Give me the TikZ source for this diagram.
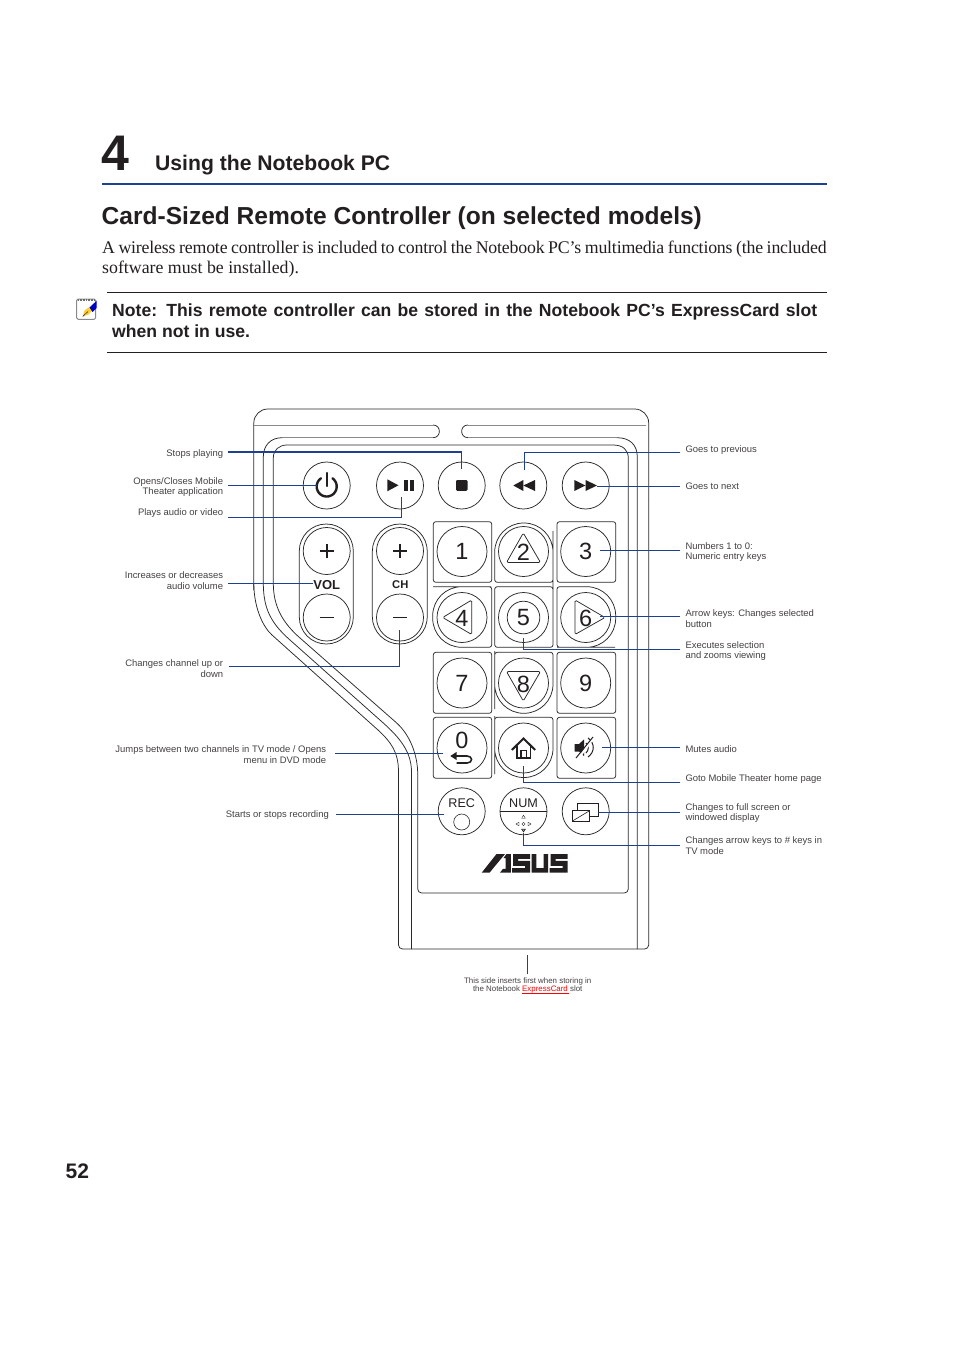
\documentclass[tikz,border=0pt]{standalone}
\usepackage{fontspec}
\setmainfont{Liberation Sans}
\newfontfamily\serifbody{Liberation Serif}
\newfontfamily\serifTight[LetterSpace=-1.0]{Liberation Serif}
\definecolor{leader}{HTML}{1F3F8F}
\definecolor{ink}{HTML}{231F20}
\definecolor{outl}{HTML}{2A2A2A}
\definecolor{soft}{HTML}{8A8A8A}
\newcommand{\fs}[2]{\fontsize{#1}{#2}\selectfont}
\tikzset{
  x=1pt,y=-1pt,
  body/.style={draw=outl,line width=.75pt},
  softline/.style={draw=soft,line width=.8pt},
  keybox/.style={draw=outl,line width=.75pt,rounded corners=2.5pt},
  btn/.style={circle,draw=outl,line width=.75pt,minimum size=47pt,inner sep=0pt,fill=white},
  knob/.style={circle,draw=outl,line width=.75pt,minimum size=50pt,inner sep=0pt,fill=white,font=\fs{23.5}{24},text=ink},
  digit/.style={inner sep=0pt,font=\fs{23.5}{24},text=ink},
  lead/.style={draw=leader,line width=.9pt},
  leadb/.style={draw=leader,line width=1.5pt},
  lab/.style={font=\fs{9.45}{10.8},text=ink!85!white,inner sep=0pt},
  labL/.style={lab,anchor=west,align=left},
  labR/.style={lab,anchor=east,align=right},
  glyph/.style={fill=ink,draw=none},
  gline/.style={draw=ink,line width=1.7pt},
  txt/.style={anchor=base west,inner sep=0pt,text=ink},
}
\begin{document}
\begin{tikzpicture}
\useasboundingbox[fill=white] (0,0) rectangle (954,1351);

% ---------- page header ----------
\node[txt,font=\bfseries\fs{50}{53}] (chap) at (101,171) {4};
\node[txt,font=\bfseries\fs{21.15}{24}] (chaptitle) at (155,170.5) {Using the Notebook PC};
\coordinate (hrA) at (102,184); \coordinate (hrB) at (827,184);
\draw[draw=leader,line width=1.6pt] (hrA) -- (hrB);
\node[txt,font=\bfseries\fs{24.55}{28}] (title) at (101.5,224.5) {Card-Sized Remote Controller (on selected models)};
\node[txt,font=\serifTight\fs{17.8}{20}] (body1) at (102,253) {\makebox[724.5pt][s]{A wireless remote controller is included to control the Notebook PC’s multimedia functions (the included}};
\node[txt,font=\serifbody\fs{17.8}{20}] (body2) at (102,273) {software must be installed).};
\coordinate (n1a) at (107,292.5); \coordinate (n1b) at (827,292.5);
\coordinate (n2a) at (107,352.5); \coordinate (n2b) at (827,352.5);
\draw[line width=.8pt,draw=ink] (n1a) -- (n1b);
\draw[line width=.8pt,draw=ink] (n2a) -- (n2b);
\node[txt,font=\bfseries\fs{17.6}{20}] (note1) at (112,316) {\makebox[705pt][s]{Note: This remote controller can be stored in the Notebook PC’s ExpressCard slot}};
\node[txt,font=\bfseries\fs{17.6}{20}] (note2) at (112,337) {when not in use.};
\node[txt,font=\bfseries\fs{21}{24}] (pageno) at (65.5,1178) {52};

% note icon
\draw[draw=soft,fill=white,line width=1pt,rounded corners=1.5pt] (76.7,299) rectangle (95.7,319.3);
\draw[draw=gray!85!black,line width=2pt,dash pattern=on .9pt off .7pt] (78,299.5) -- (94.5,299.5);
\fill[fill=yellow!55!orange!80!white] (82.7,316.5) -- (84.5,310.5) -- (90,306.5) -- (92.5,310) -- (88.5,314.5) -- cycle;
\fill[fill=blue!75!black] (89.5,307.5) -- (96.7,300.7) -- (96.7,308) -- (92.5,312) -- cycle;
\draw[draw=ink,line width=.5pt] (82.7,316.5) -- (88,311.5);

% ---------- remote body ----------
\draw[body,rounded corners=14pt] (253.8,590) -- (253.8,409) -- (648.7,409) -- (648.7,500);
\draw[body,rounded corners=4pt] (648.7,500) -- (648.7,949) -- (398.5,949) -- (398.5,790);
\draw[body] (398.5,790) -- (398.5,772) .. controls (398.5,752) and (391,742) .. (378,730) -- (272,635) .. controls (262,626) and (253.8,606) .. (253.8,583);
% top slots
\draw[softline] (253.8,425) -- (433,425);
\draw[softline] (646,425) -- (468,425);
\draw[body] (433,425) .. controls (441.5,425) and (441.5,437.7) .. (433,437.7);
\draw[body] (468,425) .. controls (459.5,425) and (459.5,437.7) .. (468,437.7);
\draw[softline] (433,437.7) -- (282,437.7);
\draw[softline] (468,437.7) -- (617,437.7);
\draw[body] (282,437.7) .. controls (271,437.7) and (263.3,445) .. (263.3,457) -- (263.3,583) .. controls (263.3,610) and (272,624) .. (290,640) -- (383.3,723) .. controls (400,738) and (411.5,752) .. (411.5,772) -- (411.5,949);
\draw[body] (617,437.7) .. controls (630,437.7) and (637.3,445) .. (637.3,457) -- (637.3,949);
% inner panel
\draw[body] (417.7,778) .. controls (417.7,755) and (410,735) .. (396.7,723) -- (300,638) .. controls (283,623) and (273.3,607) .. (273.3,583) -- (273.3,458) .. controls (273.3,450) and (279,445) .. (287,445) -- (613,445) .. controls (623,445) and (628.3,450) .. (628.3,458) -- (628.3,887) [rounded corners=4pt] -- (628.3,893) -- (417.7,893) -- cycle;

% ---------- top row ----------
\node[btn] (bPower) at (326.7,485.5) {};
\node[btn] (bPlay) at (400,485.5) {};
\node[btn] (bStop) at (461.7,485.5) {};
\node[btn] (bPrev) at (523.3,485.5) {};
\node[btn] (bNext) at (585.7,485.5) {};
\draw[draw=ink,line width=2.4pt,line cap=round] plot[domain=125:415,samples=40] ({326.7+10*cos(\x)},{486.5-10*sin(\x)});
\draw[draw=ink,line width=2.4pt,line cap=round] (326.7,473) -- (326.7,486);
\fill[glyph] (387.3,479.3) -- (398.5,485.3) -- (387.3,491.3) -- cycle;
\fill[glyph] (403.8,480) rectangle (407.8,491);
\fill[glyph] (409.5,480) rectangle (413.5,491);
\fill[glyph,rounded corners=1.2pt] (456,480) rectangle (467.5,490.8);
\fill[glyph] (513.3,485.5) -- (523.3,480) -- (523.3,491) -- cycle;
\fill[glyph] (523.3,485.5) -- (535,480) -- (535,491) -- cycle;
\fill[glyph] (574.3,480) -- (585.5,485.5) -- (574.3,491) -- cycle;
\fill[glyph] (585.5,480) -- (597,485.5) -- (585.5,491) -- cycle;

% ---------- VOL / CH ----------
\draw[body,rounded corners=27pt] (299.3,584) -- (299.3,524) -- (353.3,524) -- (353.3,644) -- (299.3,644) -- cycle;
\draw[body,rounded corners=27.5pt] (372.3,584) -- (372.3,524) -- (427.3,524) -- (427.3,644) -- (372.3,644) -- cycle;
\node[btn] (volUp) at (326.7,551) {};
\node[btn] (volDn) at (326.7,617.5) {};
\node[btn] (chUp) at (400,551) {};
\node[btn] (chDn) at (400,617.5) {};
\draw[gline] (319.7,551) -- (333.7,551) (326.7,544) -- (326.7,558);
\draw[gline] (393,551) -- (407,551) (400,544) -- (400,558);
\draw[gline] (319.7,617.5) -- (333.7,617.5);
\draw[gline] (393,617.5) -- (407,617.5);
\node[inner sep=0pt,font=\bfseries\fs{13}{13},text=ink] (volT) at (326.7,585) {VOL};
\node[inner sep=0pt,font=\bfseries\fs{11.2}{13},text=ink] (chT) at (400.3,585) {CH};

% ---------- keypad frames ----------
\draw[keybox] (433.3,521.7) rectangle (491.7,582.3);
\draw[keybox] (494.7,582.3) -- (494.7,560) [rounded corners=29pt] -- (494.7,523) -- (553,523) -- (553,560) [rounded corners=2.5pt] -- (553,582.3) -- cycle;
\draw[keybox] (557,521.7) rectangle (615.7,582.3);
\draw[keybox] (491.7,586.7) -- (491.7,647.3) -- (462,647.3) [rounded corners=29pt] -- (432.7,647.3) -- (432.7,586.7) -- (462,586.7) [rounded corners=2.5pt] -- cycle;
\draw[keybox] (494.7,586.7) rectangle (553,647.3);
\draw[keybox] (557,647.3) -- (557,586.7) -- (586,586.7) [rounded corners=29pt] -- (615.7,586.7) -- (615.7,647.3) -- (586,647.3) [rounded corners=2.5pt] -- cycle;
\draw[keybox] (433.3,652.3) rectangle (491.7,713.3);
\draw[keybox] (494.7,652.3) -- (553,652.3) -- (553,680) [rounded corners=29pt] -- (553,713.3) -- (494.7,713.3) -- (494.7,680) [rounded corners=2.5pt] -- cycle;
\draw[keybox] (557,652.3) rectangle (615.7,713.3);
\draw[keybox] (433.3,717.3) rectangle (491.7,778.3);
\draw[keybox] (494.7,717.3) -- (553,717.3) -- (553,745) [rounded corners=29pt] -- (553,777.5) -- (494.7,777.5) -- (494.7,745) [rounded corners=2.5pt] -- cycle;
\draw[keybox] (557,717.3) rectangle (615.7,778.3);

% ---------- keypad knobs ----------
\node[knob] (k1) at (462,551.5) {1};
\node[knob] (k2) at (523.5,551.5) {};
\node[knob] (k3) at (585.7,551.5) {3};
\node[knob] (k4) at (462,617.5) {};
\node[knob] (k5) at (523.5,617.5) {};
\node[knob] (k6) at (585.7,617.5) {};
\node[knob] (k7) at (462,683) {7};
\node[knob] (k8) at (523.5,683) {};
\node[knob] (k9) at (585.7,683) {9};
\node[knob] (k0) at (462,748) {};
\node[knob] (kHome) at (523.5,748) {};
\node[knob] (kMute) at (585.7,748) {};
\draw[body,rounded corners=1.5pt] (523.3,533) -- (540.5,562.5) -- (506.5,562.5) -- cycle;
\draw[body,rounded corners=1.5pt] (442.7,617.5) -- (471.7,600) -- (471.7,634.5) -- cycle;
\draw[body,rounded corners=1.5pt] (605,617.5) -- (575,600) -- (575,634.5) -- cycle;
\draw[body,rounded corners=1.5pt] (523.3,701) -- (540.5,671.5) -- (506.5,671.5) -- cycle;
\draw[body] (523.5,617.5) circle (16.3);
\node[digit] (d2) at (523.5,552) {2};
\node[digit] (d4) at (462,618) {4};
\node[digit] (d5) at (523.5,618) {5};
\node[digit] (d6) at (585.7,618) {6};
\node[digit] (d8) at (523.5,684) {8};
\node[digit] (d0) at (462,740) {0};
% back arrow
\draw[draw=ink,line width=1.6pt] (453,756) -- (467,756) .. controls (473,756) and (473,763) .. (467,763) -- (456.5,763);
\fill[glyph] (450.3,756) -- (456.5,752) -- (456.5,760) -- cycle;
% home icon
\draw[draw=ink,line width=2pt,line join=miter] (511.8,750) -- (523.5,738.5) -- (535.2,750);
\draw[draw=ink,line width=1.8pt] (516.7,746) -- (516.7,757.8) -- (530.5,757.8) -- (530.5,746);
\draw[draw=ink,line width=1.4pt] (521,757.8) -- (521,750.5) -- (526.2,750.5) -- (526.2,757.8);
% mute icon
\fill[glyph] (574.5,744) -- (579,744) -- (584,739.5) -- (584,756) -- (579,751.5) -- (574.5,751.5) -- cycle;
\draw[draw=ink,line width=1pt] (586,743) .. controls (589,746) and (589,750) .. (586,753);
\draw[draw=ink,line width=1pt] (588,738) .. controls (595,743) and (595,752) .. (588,757);
\draw[draw=white,line width=2.2pt] (578,759) -- (594,737);
\draw[draw=ink,line width=1pt] (576,758) -- (593,737);

% ---------- bottom row ----------
\node[btn] (bRec) at (461.7,811.3) {};
\node[btn] (bNum) at (523.5,811.3) {};
\node[btn] (bScr) at (585.7,811.3) {};
\node[inner sep=0pt,font=\fs{12.6}{13},text=ink] (recT) at (461.7,803) {REC};
\node[circle,draw=outl,line width=.6pt,minimum size=16pt,inner sep=0pt] (recDot) at (461.7,822) {};
\node[inner sep=0pt,font=\fs{12.6}{13},text=ink] (numT) at (523.5,803) {NUM};
\draw[draw=ink,line width=.9pt] (bNum.west) -- (bNum.east);
\draw[draw=ink,line width=.4pt] (523.5,815.2) -- (525.3,818.2) -- (521.7,818.2) -- cycle;
\draw[draw=ink,line width=.4pt] (516,824) -- (519,822.2) -- (519,825.8) -- cycle;
\draw[draw=ink,line width=.4pt] (531,824) -- (528,822.2) -- (528,825.8) -- cycle;
\draw[draw=ink,line width=.4pt] (523.5,824) circle (1.6);
\draw[draw=ink,fill=ink!50,line width=.5pt] (523.5,832) -- (525.5,829) -- (521.5,829) -- cycle;
\draw[draw=ink,line width=.8pt] (577.3,810.5) -- (577.3,803) -- (598.3,803) -- (598.3,816) -- (589.3,816);
\draw[draw=ink,line width=.8pt,fill=white] (572.3,810.8) rectangle (589.3,821.2);
\draw[draw=ink,line width=.6pt] (572.8,820.8) -- (588.8,811.2);

% ---------- ASUS logo ----------
\fill[glyph] (481.7,872.7) -- (489.5,872.7) -- (505,854) -- (496.5,854) -- cycle;
\fill[glyph] (500,872.7) -- (510.8,872.7) -- (510.8,854) -- (506.5,854) -- (503.5,858) -- (505.5,858) -- (505.5,868.8) -- (503,868.8) -- cycle;
\fill[glyph] (513,854) -- (530,854) -- (530,858.8) -- (518,858.8) -- (518,860.8) -- (530,860.8) -- (530,872.7) -- (512.2,872.7) -- (512.2,868) -- (525,868) -- (525,865.8) -- (513,865.8) -- cycle;
\fill[glyph] (531.5,854) -- (536.3,854) -- (536.3,868) -- (543.5,868) -- (543.5,854) -- (548.2,854) -- (548.2,872.7) -- (531.5,872.7) -- cycle;
\fill[glyph] (550.5,854) -- (567.7,854) -- (567.7,858.8) -- (555.5,858.8) -- (555.5,860.8) -- (567.7,860.8) -- (567.7,872.7) -- (549.7,872.7) -- (549.7,868) -- (562.7,868) -- (562.7,865.8) -- (550.5,865.8) -- cycle;

% ---------- labels ----------
\node[labR] (lStops) at (223.3,453.7) {Stops playing};
\node[labR] (lOpens) at (223.3,487) {Opens/Closes Mobile\\Theater application};
\node[labR] (lPlays) at (223.3,512.7) {Plays audio or video};
\node[labR] (lVol) at (223.3,580.5) {Increases or decreases\\audio volume};
\node[labR] (lCh) at (223.3,668.3) {Changes channel up or\\down};
\node[labR] (lJump) at (326.3,755) {Jumps between two channels in TV mode / Opens\\menu in DVD mode};
\node[labR] (lRec) at (329,815.3) {Starts or stops recording};
\node[labL] (lPrev) at (685.3,450.5) {Goes to previous};
\node[labL] (lNext) at (685.3,486) {Goes to next};
\node[labL] (lNum) at (685.3,552) {Numbers 1 to 0:\\Numeric entry keys};
\node[labL] (lArr) at (685.3,619) {Arrow keys: Changes selected\\button};
\node[labL] (lExe) at (685.3,651) {Executes selection\\and zooms viewing};
\node[labL] (lMute) at (685.3,748.8) {Mutes audio};
\node[labL] (lHome) at (685.3,779.3) {Goto Mobile Theater home page};
\node[labL] (lScr) at (685.3,813) {Changes to full screen or\\windowed display};
\node[labL] (lKeys) at (685.3,845.5) {Changes arrow keys to \# keys in\\TV mode};
\node[lab,align=center,font=\fs{7.9}{8.8}] (lSide) at (527.7,985.5) {This side inserts first when storing in\\the Notebook \textcolor{red}{\rlap{\rule[-1.4pt]{47pt}{.5pt}}ExpressCard\ }slot};

% ---------- connectors ----------
\coordinate (aStops) at (228,452); \coordinate (eStops) at (461.7,469);
\coordinate (aOpens) at (228,485.5); \coordinate (eOpens) at (316.7,485.5);
\coordinate (aPlays) at (228,517.5); \coordinate (ePlays) at (401,497);
\coordinate (aVol) at (228,583); \coordinate (eVol) at (312.7,583);
\coordinate (aCh) at (229,666.5); \coordinate (eCh) at (399,630);
\coordinate (aJump) at (335,753); \coordinate (eJump) at (443,753);
\coordinate (aRec) at (336,814.5); \coordinate (eRec) at (444,814.5);
\coordinate (aPrev) at (680,452); \coordinate (ePrev) at (524,470);
\coordinate (aNext) at (680,486); \coordinate (eNext) at (596.7,486);
\coordinate (aNum) at (680,550); \coordinate (eNum) at (600,550);
\coordinate (aArr) at (680,616); \coordinate (eArr) at (600,616);
\coordinate (aExe) at (680,649); \coordinate (eExe) at (523.3,638);
\coordinate (aMute) at (680,747); \coordinate (eMute) at (601.7,747);
\coordinate (aHome) at (680,782); \coordinate (eHome) at (523.3,766);
\coordinate (aScr) at (680,812.5); \coordinate (eScr) at (598,812.5);
\coordinate (aKeys) at (680,845.5); \coordinate (eKeys) at (523.3,833);
\coordinate (aSide) at (527.7,955); \coordinate (eSide) at (527.7,974);
\draw[leadb] (aStops) -| (eStops);
\draw[lead] (aOpens) -- (eOpens);
\draw[lead] (aPlays) -| (ePlays);
\draw[lead] (aVol) -- (eVol);
\draw[lead] (aCh) -| (eCh);
\draw[lead] (aJump) -- (eJump);
\draw[lead] (aRec) -- (eRec);
\draw[lead] (aPrev) -| (ePrev);
\draw[lead] (aNext) -- (eNext);
\draw[lead] (aNum) -- (eNum);
\draw[lead] (aArr) -- (eArr);
\draw[lead] (aExe) -| (eExe);
\draw[lead] (aMute) -- (eMute);
\draw[lead] (aHome) -| (eHome);
\draw[lead] (aScr) -- (eScr);
\draw[lead] (aKeys) -| (eKeys);
\draw[leadb] (aSide) -- (eSide);
\end{tikzpicture}
\end{document}
